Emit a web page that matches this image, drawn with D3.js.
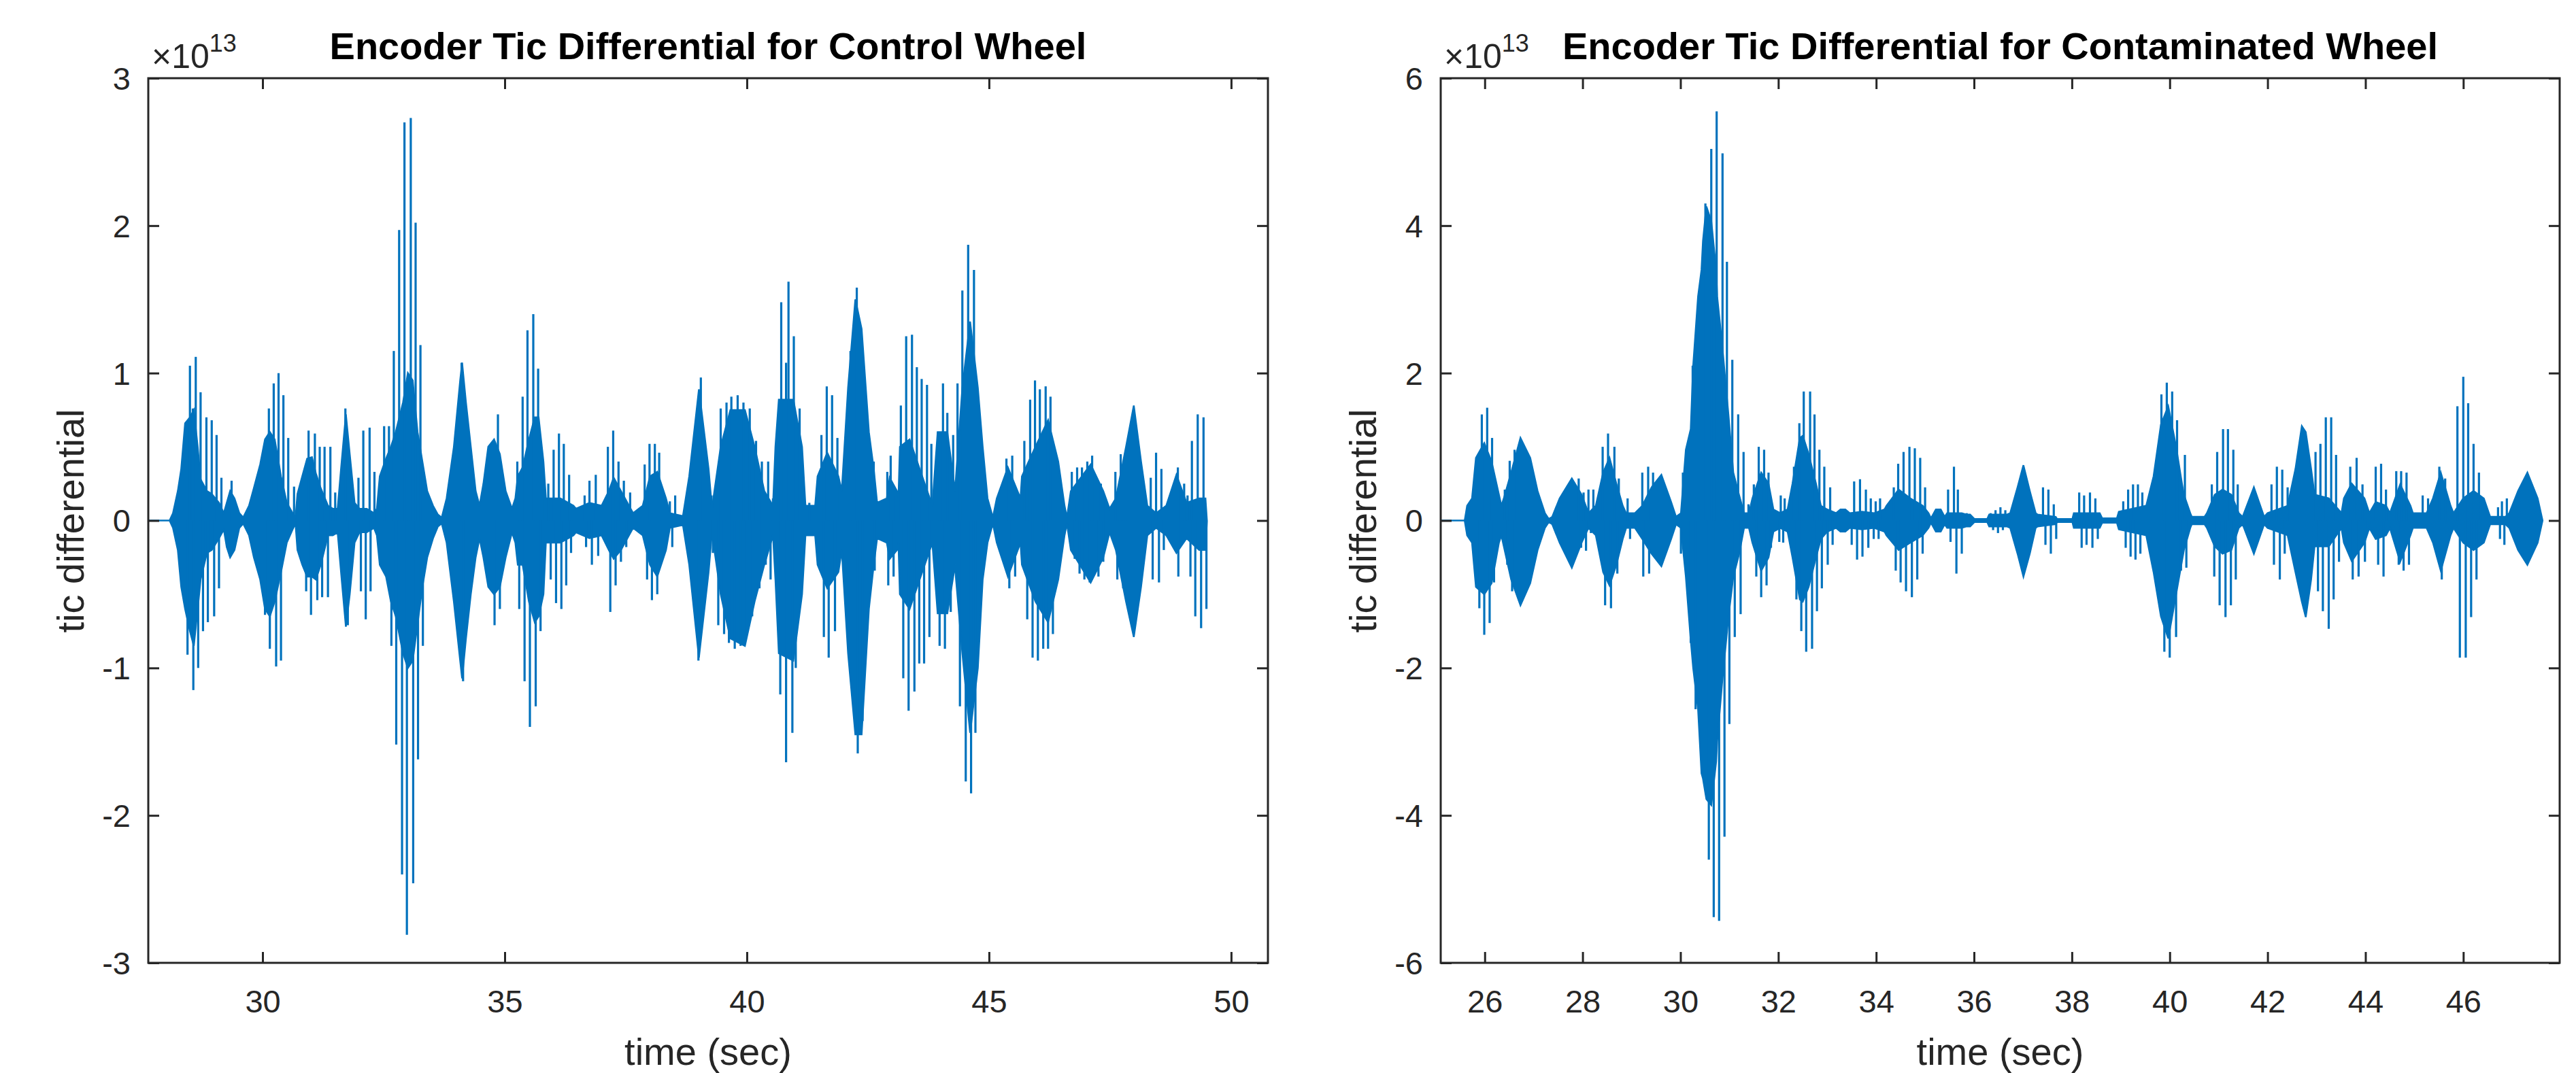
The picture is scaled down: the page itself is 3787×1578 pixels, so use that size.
<!DOCTYPE html>
<html>
<head>
<meta charset="utf-8">
<script src="https://cdn.jsdelivr.net/npm/d3@7"></script>
<style>
  body { margin: 0; background: #ffffff; }
  text { font-family: "Liberation Sans", Arial, Helvetica, sans-serif; fill: #262626; }
</style>
</head>
<body>
<script>

//Axis limits and tick values (values are in units of 10^13)
var controlXLim = [27.64, 50.76];
var controlYLim = [-3, 3];
var controlXTicks = [30, 35, 40, 45, 50];
var controlYTicks = [-3, -2, -1, 0, 1, 2, 3];

var contamXLim = [25.10, 47.97];
var contamYLim = [-6, 6];
var contamXTicks = [26, 28, 30, 32, 34, 36, 38, 40, 42, 44, 46];
var contamYTicks = [-6, -4, -2, 0, 2, 4, 6];

//Solid body of the control signal: [time, upper, lower]
var controlEnvelope = [
  [27.64,0,0],[28.08,0,0],[28.15,.05,-.05],[28.25,.2,-.2],[28.32,.35,-.45],[28.40,.66,-.6],
  [28.50,.7,-.75],[28.58,.75,-.85],[28.66,.5,-.6],[28.72,.28,-.4],[28.85,.2,-.22],[28.95,.18,-.2],
  [29.10,.12,-.12],[29.20,.05,-.06],[29.26,.12,-.18],[29.33,.2,-.25],[29.42,.15,-.2],[29.52,.05,-.05],
  [29.60,.02,-.02],[29.72,.1,-.1],[29.82,.22,-.25],[29.95,.38,-.4],[30.05,.55,-.6],[30.15,.6,-.65],
  [30.25,.55,-.55],[30.38,.3,-.35],[30.50,.12,-.15],[30.62,.05,-.06],[30.68,.02,-.02],[30.72,.18,-.2],
  [30.82,.3,-.3],[30.92,.42,-.38],[31.02,.43,-.38],[31.10,.32,-.4],[31.20,.22,-.3],[31.35,.1,-.1],
  [31.45,.08,-.1],[31.55,.08,-.08],[31.62,.35,-.35],[31.72,.72,-.72],[31.80,.45,-.5],[31.90,.12,-.15],
  [32.00,.08,-.08],[32.15,.08,-.08],[32.30,.05,-.05],[32.36,.08,-.1],[32.42,.3,-.3],[32.55,.42,-.38],
  [32.65,.5,-.55],[32.75,.6,-.65],[32.90,.8,-.9],[33.00,1.0,-1.0],[33.10,.95,-.95],[33.20,.6,-.7],
  [33.30,.4,-.45],[33.40,.2,-.25],[33.52,.1,-.12],[33.62,.04,-.04],[33.70,.02,-.02],[33.80,.15,-.15],
  [33.95,.5,-.55],[34.08,.95,-.95],[34.12,1.07,-1.07],[34.20,.8,-.8],[34.30,.5,-.5],[34.40,.2,-.25],
  [34.48,.1,-.12],[34.56,.25,-.25],[34.66,.5,-.45],[34.78,.55,-.5],[34.90,.45,-.45],[35.02,.2,-.25],
  [35.15,.08,-.08],[35.22,.15,-.15],[35.27,.3,-.3],[35.37,.36,-.3],[35.50,.55,-.55],[35.62,.7,-.69],
  [35.70,.7,-.65],[35.80,.4,-.5],[35.85,.15,-.15],[36.15,.15,-.15],[36.42,.1,-.1],[36.47,.08,-.08],
  [36.75,.12,-.12],[37.00,.1,-.1],[37.15,.2,-.2],[37.25,.29,-.26],[37.40,.2,-.2],[37.65,.05,-.05],
  [37.85,.1,-.1],[38.00,.3,-.3],[38.15,.33,-.38],[38.33,.15,-.2],[38.41,.05,-.05],[38.68,.03,-.03],
  [38.81,.3,-.3],[39.01,.89,-.93],[39.21,.35,-.35],[39.28,.08,-.08],[39.33,.2,-.2],[39.46,.5,-.5],
  [39.66,.75,-.8],[39.96,.75,-.85],[40.16,.5,-.55],[40.36,.2,-.3],[40.54,.1,-.1],[40.59,.5,-.4],
  [40.66,.82,-.9],[40.96,.82,-.95],[41.14,.5,-.5],[41.21,.1,-.1],[41.41,.1,-.1],[41.46,.3,-.3],
  [41.66,.46,-.46],[41.89,.3,-.35],[41.96,.2,-.2],[42.09,.9,-.9],[42.24,1.5,-1.45],[42.37,1.3,-1.45],
  [42.52,.6,-.6],[42.62,.35,-.3],[42.69,.12,-.12],[42.89,.15,-.15],[42.95,.29,-.26],[43.10,.2,-.2],
  [43.13,.15,-.15],[43.16,.5,-.5],[43.36,.55,-.6],[43.62,.3,-.35],[43.83,.1,-.15],[43.94,.6,-.63],
  [44.14,.6,-.63],[44.30,.2,-.3],[44.32,.3,-.4],[44.45,.9,-.9],[44.61,1.35,-1.44],[44.77,.9,-1.0],
  [44.87,.5,-.4],[44.97,.15,-.15],[45.08,.02,-.02],[45.16,.15,-.15],[45.39,.36,-.38],[45.65,.15,-.15],
  [45.68,.3,-.3],[45.96,.5,-.55],[46.22,.68,-.69],[46.43,.4,-.4],[46.56,.1,-.1],[46.61,.02,-.02],
  [46.69,.2,-.2],[47.10,.38,-.42],[47.36,.2,-.25],[47.49,.08,-.08],[47.62,.15,-.2],[47.83,.5,-.55],
  [47.99,.78,-.79],[48.14,.4,-.45],[48.27,.1,-.1],[48.45,.05,-.05],[48.66,.1,-.1],[48.87,.31,-.22],
  [49.08,.12,-.12],[49.34,.15,-.2],[49.47,.15,-.2],[49.50,0,0]
];

//Single swings that stick out of the control body: [time, value]
var controlPeaks = [
  [28.50,1.05],[28.56,.76],[28.62,1.11],[28.72,.87],[28.84,.70],[28.95,.68],[29.05,.58],[29.15,.29],
  [29.36,.27],[30.13,.76],[30.23,.93],[30.33,1.0],[30.43,.85],[30.53,.56],[30.65,.23],[30.95,.61],
  [31.08,.59],[31.18,.5],[31.28,.5],[31.40,.5],[31.50,.19],[31.71,.76],[31.98,.29],[32.08,.61],
  [32.21,.63],[32.31,.33],[32.51,.64],[32.61,.64],[32.71,1.15],[32.82,1.97],[32.93,2.70],[33.06,2.73],
  [33.16,2.02],[33.26,1.19],[34.11,1.07],[34.86,.72],[35.26,.40],[35.37,.84],[35.47,1.29],[35.59,1.40],
  [35.69,1.03],[35.77,.42],[35.90,.25],[36.01,.48],[36.12,.59],[36.22,.52],[36.33,.31],[36.65,.17],
  [36.75,.27],[36.88,.31],[37.13,.5],[37.24,.61],[37.35,.4],[37.46,.27],[37.59,.19],[37.89,.38],
  [37.99,.52],[38.10,.52],[38.19,.46],[38.41,.13],[38.52,.17],[39.05,.97],[39.27,.17],[39.46,.76],
  [39.58,.80],[39.68,.84],[39.81,.85],[39.93,.80],[40.06,.76],[40.19,.54],[40.31,.40],[40.44,.40],
  [40.54,.15],[40.71,1.48],[40.81,1.07],[40.86,1.62],[40.97,1.25],[41.09,.76],[41.29,.12],[41.54,.58],
  [41.65,.91],[41.76,.85],[41.87,.56],[42.14,1.15],[42.27,1.58],[42.62,.4],[42.90,.33],[42.97,.44],
  [43.08,.17],[43.18,.78],[43.29,1.25],[43.41,1.26],[43.51,1.04],[43.61,.96],[43.72,.92],[43.81,.52],
  [43.95,.6],[44.05,.93],[44.14,.73],[44.26,.58],[44.35,.93],[44.45,1.56],[44.57,1.87],[44.69,1.70],
  [45.36,.42],[45.48,.44],[45.73,.54],[45.85,.82],[45.95,.95],[46.05,.89],[46.17,.91],[46.27,.84],
  [46.71,.33],[46.82,.36],[46.92,.36],[47.03,.40],[47.13,.44],[47.31,.25],[47.41,.15],[47.61,.33],
  [47.72,.45],[47.82,.46],[48.34,.29],[48.45,.46],[48.56,.35],[48.90,.36],[49.03,.25],[49.10,.17],
  [49.19,.54],[49.31,.72],[49.43,.70],
  [28.45,-.91],[28.57,-1.15],[28.67,-1.0],[28.77,-.75],[28.87,-.69],[29.0,-.65],[29.10,-.46],[29.32,-.24],
  [30.05,-.64],[30.15,-.87],[30.28,-.99],[30.38,-.95],[30.90,-.48],[31.0,-.64],[31.13,-.54],[31.23,-.52],
  [31.35,-.52],[31.76,-.71],[32.03,-.48],[32.13,-.67],[32.23,-.48],[32.66,-.85],[32.76,-1.52],[32.88,-2.4],
  [32.98,-2.81],[33.11,-2.46],[33.21,-1.62],[33.31,-.85],[34.14,-1.09],[34.79,-.71],[34.90,-.6],[35.30,-.6],
  [35.41,-1.09],[35.52,-1.40],[35.64,-1.26],[35.74,-.75],[35.95,-.40],[36.06,-.56],[36.17,-.6],[36.27,-.44],
  [36.37,-.22],[36.68,-.18],[36.80,-.3],[36.93,-.24],[37.18,-.62],[37.29,-.44],[37.40,-.28],[37.51,-.18],
  [37.94,-.4],[38.04,-.54],[38.15,-.5],[38.46,-.18],[39.0,-.95],[39.30,-.22],[39.41,-.71],[39.53,-.77],
  [39.63,-.83],[39.75,-.87],[39.87,-.85],[40.0,-.77],[40.11,-.65],[40.26,-.46],[40.39,-.3],[40.49,-.4],
  [40.69,-1.18],[40.81,-1.64],[40.94,-1.44],[41.01,-1.0],[41.59,-.79],[41.69,-.93],[41.82,-.75],[42.29,-1.58],
  [42.39,-1.36],[42.64,-.34],[42.92,-.44],[43.03,-.38],[43.23,-1.07],[43.34,-1.29],[43.46,-1.16],[43.56,-.97],
  [43.66,-.97],[43.77,-.79],[43.98,-.85],[44.09,-.87],[44.21,-.62],[44.40,-1.26],[44.52,-1.77],[44.63,-1.85],
  [44.72,-1.44],[45.42,-.46],[45.54,-.38],[45.79,-.67],[45.90,-.93],[46.01,-.95],[46.12,-.87],[46.22,-.87],
  [46.32,-.77],[46.77,-.26],[46.87,-.36],[46.97,-.4],[47.08,-.42],[47.26,-.38],[47.36,-.28],[47.65,-.4],
  [47.77,-.46],[48.38,-.4],[48.51,-.42],[48.61,-.2],[48.91,-.38],[49.16,-.38],[49.26,-.65],[49.38,-.73],
  [49.49,-.6]
];

//Solid body of the contaminated signal: [time, upper, lower]
var contamEnvelope = [
  [25.10,0,0],[25.59,0,0],[25.64,.2,-.2],[25.74,.3,-.3],[25.82,.85,-.9],[25.99,1.05,-1.0],
  [26.14,.8,-.85],[26.29,.35,-.3],[26.34,.2,-.2],[26.39,.3,-.35],[26.54,.65,-.8],[26.73,1.12,-1.15],
  [26.93,.85,-.85],[27.08,.4,-.4],[27.23,.1,-.1],[27.31,.02,-.02],[27.38,.05,-.05],[27.53,.3,-.3],
  [27.78,.57,-.64],[27.98,.35,-.3],[28.12,.1,-.1],[28.27,.2,-.2],[28.42,.65,-.7],[28.55,.85,-.88],
  [28.69,.5,-.6],[28.82,.2,-.25],[28.89,.1,-.1],[29.07,.1,-.1],[29.22,.2,-.25],[29.41,.45,-.45],
  [29.61,.62,-.62],[29.81,.25,-.25],[29.91,.05,-.05],[30.01,.1,-.1],[30.11,.96,-.76],[30.21,1.24,-1.62],
  [30.26,2.1,-2.0],[30.36,3.04,-2.56],[30.43,3.4,-3.43],[30.46,3.79,-3.5],[30.53,4.26,-3.78],[30.63,4.06,-3.86],
  [30.73,3.4,-3.27],[30.75,3.04,-3.0],[30.85,2.4,-2.21],[30.98,1.44,-1.31],[31.08,.65,-.76],[31.20,.34,-.45],
  [31.30,.1,-.1],[31.40,.1,-.1],[31.47,.3,-.3],[31.65,.65,-.68],[31.80,.5,-.5],[31.90,.15,-.15],
  [32.04,.1,-.1],[32.19,.15,-.15],[32.29,.5,-.5],[32.44,1.12,-1.07],[32.50,1.15,-1.1],[32.62,.9,-.9],
  [32.77,.5,-.5],[32.87,.2,-.25],[33.00,.15,-.15],[33.18,.1,-.1],[33.27,.15,-.15],[33.37,.15,-.15],
  [33.46,.1,-.1],[33.71,.12,-.12],[33.96,.1,-.1],[34.17,.15,-.15],[34.21,.2,-.2],[34.46,.42,-.4],
  [34.70,.3,-.3],[34.95,.2,-.2],[35.07,.1,-.1],[35.12,.03,-.03],[35.22,.15,-.15],[35.32,.15,-.15],
  [35.40,.05,-.05],[35.45,.1,-.1],[35.75,.1,-.1],[35.85,.08,-.08],[35.92,.08,-.08],[36.01,.02,-.02],
  [36.27,.02,-.02],[36.31,.08,-.08],[36.67,.08,-.08],[36.74,.1,-.1],[36.89,.45,-.45],[37.01,.75,-.76],
  [37.14,.4,-.45],[37.26,.1,-.1],[37.30,.08,-.08],[37.67,.05,-.05],[37.70,.02,-.02],[38.01,.02,-.02],
  [38.04,.1,-.1],[38.57,.1,-.1],[38.62,.03,-.03],[38.92,.03,-.03],[38.96,.12,-.12],[39.52,.2,-.2],
  [39.67,.6,-.7],[39.82,1.3,-1.3],[39.97,1.55,-1.6],[40.13,1.0,-1.0],[40.25,.5,-.55],[40.29,.35,-.4],
  [40.42,.1,-.1],[40.45,.05,-.05],[40.71,.05,-.05],[40.76,.1,-.1],[40.92,.35,-.35],[41.08,.42,-.45],
  [41.26,.35,-.4],[41.41,.1,-.1],[41.49,.05,-.05],[41.72,.45,-.45],[41.93,.05,-.05],[42.00,.1,-.1],
  [42.41,.2,-.2],[42.57,.7,-.7],[42.70,1.28,-1.1],[42.78,1.2,-1.31],[42.89,.7,-.8],[42.96,.35,-.35],
  [43.25,.3,-.35],[43.51,.1,-.1],[43.56,.3,-.3],[43.72,.5,-.55],[43.98,.3,-.3],[44.08,.1,-.1],
  [44.21,.25,-.25],[44.42,.2,-.2],[44.50,.1,-.1],[44.71,.49,-.56],[44.92,.2,-.2],[44.97,.1,-.1],
  [45.25,.1,-.1],[45.38,.3,-.3],[45.54,.65,-.68],[45.74,.2,-.2],[45.80,.1,-.1],[46.00,.3,-.3],
  [46.21,.4,-.4],[46.42,.3,-.3],[46.55,.05,-.05],[46.86,.05,-.05],[46.94,.1,-.1],[47.12,.4,-.4],
  [47.31,.65,-.6],[47.52,.3,-.3],[47.62,0,0]
];

//Single swings that stick out of the contaminated body: [time, value]
var contamPeaks = [
  [25.94,1.44],[26.05,1.53],[26.15,1.12],[26.41,.42],[26.51,.81],[26.61,.96],[27.92,.57],[28.02,.38],
  [28.12,.42],[28.22,.42],[28.41,1.0],[28.52,1.18],[28.65,1.0],[28.74,.57],[28.92,.3],[29.22,.65],
  [29.34,.73],[29.44,.65],[30.05,.65],[30.25,2.1],[30.51,4.3],[30.63,5.04],[30.74,5.55],[30.86,4.98],
  [30.95,3.51],[31.06,2.18],[31.18,1.44],[31.29,.93],[31.39,.22],[31.50,.49],[31.60,1.0],[31.71,.96],
  [31.80,.65],[32.05,.34],[32.13,.3],[32.32,.73],[32.43,1.32],[32.52,1.75],[32.65,1.75],[32.74,1.44],
  [32.84,.96],[32.94,.73],[33.06,.45],[33.55,.53],[33.67,.56],[33.79,.42],[33.89,.3],[33.99,.26],
  [34.08,.3],[34.36,.45],[34.45,.77],[34.56,.93],[34.68,1.0],[34.79,.98],[34.90,.85],[35.0,.45],
  [35.47,.42],[35.59,.73],[35.67,.42],[35.85,.1],[36.34,.1],[36.44,.14],[36.54,.18],[36.64,.14],
  [37.41,.45],[37.52,.42],[37.63,.22],[38.15,.38],[38.25,.34],[38.37,.38],[38.48,.3],[39.05,.26],
  [39.15,.42],[39.25,.49],[39.35,.49],[39.44,.38],[39.83,1.71],[39.94,1.87],[40.05,1.75],[40.15,1.36],
  [40.31,.89],[40.86,.49],[40.97,.93],[41.09,1.24],[41.19,1.24],[41.30,.96],[41.39,.49],[42.08,.49],
  [42.19,.73],[42.30,.69],[42.41,.45],[42.98,.93],[43.08,1.04],[43.19,1.4],[43.30,1.4],[43.40,.89],
  [43.69,.73],[43.82,.85],[43.94,.49],[44.21,.73],[44.32,.77],[44.42,.42],[44.63,.67],[44.73,.67],
  [44.84,.65],[45.17,.34],[45.28,.3],[45.51,.73],[45.63,.57],[45.88,1.55],[46.0,1.95],[46.10,1.59],
  [46.21,1.04],[46.32,.65],[46.71,.18],[46.79,.26],[46.89,.3],
  [25.89,-1.19],[25.99,-1.55],[26.10,-1.39],[26.19,-.84],[26.46,-.6],[26.56,-.96],[27.97,-.37],[28.07,-.41],
  [28.17,-.17],[28.46,-1.15],[28.58,-1.19],[28.71,-.72],[28.97,-.25],[29.24,-.76],[29.36,-.72],[30.01,-.45],
  [30.21,-1.66],[30.31,-2.56],[30.58,-4.6],[30.68,-5.38],[30.79,-5.43],[30.90,-4.29],[31.0,-2.76],[31.11,-1.58],
  [31.23,-1.27],[31.55,-.76],[31.65,-1.04],[31.76,-.88],[31.85,-.37],[32.02,-.29],[32.10,-.3],[32.37,-1.07],
  [32.47,-1.5],[32.57,-1.78],[32.69,-1.74],[32.79,-1.23],[32.89,-.92],[33.01,-.6],[33.11,-.33],[33.50,-.33],
  [33.61,-.53],[33.72,-.49],[33.84,-.37],[33.95,-.25],[34.05,-.25],[34.40,-.68],[34.50,-.84],[34.61,-.96],
  [34.73,-1.04],[34.84,-.8],[34.95,-.45],[35.52,-.29],[35.64,-.72],[35.75,-.45],[36.39,-.13],[36.49,-.17],
  [36.59,-.13],[37.46,-.33],[37.57,-.45],[37.68,-.25],[38.20,-.37],[38.30,-.33],[38.42,-.37],[38.53,-.25],
  [39.10,-.37],[39.20,-.49],[39.30,-.53],[39.40,-.45],[39.89,-1.78],[40.0,-1.86],[40.13,-1.58],[40.23,-.68],
  [40.34,-.64],[40.91,-.76],[41.02,-1.15],[41.14,-1.31],[41.25,-1.15],[41.35,-.8],[42.13,-.6],[42.25,-.8],
  [42.35,-.45],[43.03,-.96],[43.13,-1.23],[43.25,-1.47],[43.35,-1.07],[43.46,-.56],[43.74,-.8],[43.86,-.76],
  [43.99,-.56],[44.26,-.6],[44.37,-.76],[44.68,-.6],[44.78,-.68],[44.89,-.6],[45.56,-.8],[45.93,-1.86],
  [46.05,-1.86],[46.16,-1.31],[46.27,-.8],[46.75,-.25],[46.84,-.33]
];

var lineBlue = "#0072bd";
var axisGray = "#262626";

//This function draws one complete panel: box, ticks, labels and the signal.
function drawPanel(svg, p){

  var top = 115;
  var bottom = 1416;

  var x = d3.scaleLinear().domain(p.xLim).range([p.left, p.right]);
  var y = d3.scaleLinear().domain(p.yLim).range([bottom, top]);

  //Clip the signal to the inside of the box
  svg.append("clipPath")
     .attr("id", p.id + "-clip")
     .append("rect")
     .attr("x", p.left)
     .attr("y", top)
     .attr("width", p.right - p.left)
     .attr("height", bottom - top);

  var plot = svg.append("g").attr("clip-path", "url(#" + p.id + "-clip)");

  //The solid part of the trace
  var area = d3.area()
               .x(function(d){ return x(d[0]); })
               .y0(function(d){ return y(d[2]); })
               .y1(function(d){ return y(d[1]); });

  plot.append("path")
      .datum(p.envelope)
      .attr("d", area)
      .attr("fill", lineBlue)
      .attr("stroke", lineBlue)
      .attr("stroke-width", 2.5);

  //The separate vertical swings
  plot.selectAll("line.peak")
      .data(p.peaks)
      .enter()
      .append("line")
      .attr("class", "peak")
      .attr("x1", function(d){ return x(d[0]); })
      .attr("x2", function(d){ return x(d[0]); })
      .attr("y1", y(0))
      .attr("y2", function(d){ return y(d[1]); })
      .attr("stroke", lineBlue)
      .attr("stroke-width", 3.2);

  //Bottom axis with labels, ticks pointing inwards
  var xb = svg.append("g")
              .attr("transform", "translate(0," + bottom + ")")
              .call(d3.axisBottom(x).tickValues(p.xTicks).tickSize(-16).tickSizeOuter(0)
                    .tickFormat(function(d){ return String(d); }));
  xb.selectAll("text").attr("y", 57).attr("dy", "0.35em").attr("font-size", 47);

  //Top axis, ticks only
  var xt = svg.append("g")
              .attr("transform", "translate(0," + top + ")")
              .call(d3.axisTop(x).tickValues(p.xTicks).tickSize(-16).tickSizeOuter(0).tickFormat(""));

  //Left axis with labels
  var yl = svg.append("g")
              .attr("transform", "translate(" + p.left + ",0)")
              .call(d3.axisLeft(y).tickValues(p.yTicks).tickSize(-16).tickSizeOuter(0)
                    .tickFormat(function(d){ return String(d); }));
  yl.selectAll("text").attr("x", -26).attr("dy", "0.35em").attr("font-size", 47);

  //Right axis, ticks only
  var yr = svg.append("g")
              .attr("transform", "translate(" + p.right + ",0)")
              .call(d3.axisRight(y).tickValues(p.yTicks).tickSize(-16).tickSizeOuter(0).tickFormat(""));

  [xb, xt, yl, yr].forEach(function(g){
    g.select(".domain").remove();
    g.selectAll("line").attr("stroke", axisGray).attr("stroke-width", 3);
    g.attr("font-family", null);
  });

  //The box round the plot
  svg.append("rect")
     .attr("x", p.left)
     .attr("y", top)
     .attr("width", p.right - p.left)
     .attr("height", bottom - top)
     .attr("fill", "none")
     .attr("stroke", axisGray)
     .attr("stroke-width", 3);

  //Exponent above the y axis
  var expo = svg.append("text")
                .attr("x", p.left + 5)
                .attr("y", 100)
                .attr("font-size", 50);
  expo.append("tspan").text("\u00d710");
  expo.append("tspan").attr("font-size", 36).attr("dy", -24).text("13");

  //Title
  svg.append("text")
     .attr("x", (p.left + p.right) / 2)
     .attr("y", 87)
     .attr("text-anchor", "middle")
     .attr("font-size", 56)
     .attr("font-weight", "bold")
     .style("fill", "#000000")
     .text(p.title);

  //Axis labels
  svg.append("text")
     .attr("x", (p.left + p.right) / 2)
     .attr("y", 1566)
     .attr("text-anchor", "middle")
     .attr("font-size", 56)
     .text("time (sec)");

  svg.append("text")
     .attr("transform", "translate(" + (p.left - 95) + ",766) rotate(-90)")
     .attr("text-anchor", "middle")
     .attr("font-size", 56)
     .text("tic differential");
}

//This is the main function for the program.
function main(){

  var w = 3787;
  var h = 1578;

  var svg = d3.select("body")
              .append("svg")
              .attr("width", w)
              .attr("height", h)
              .style("display", "block");

  svg.append("rect").attr("width", w).attr("height", h).attr("fill", "#ffffff");

  drawPanel(svg, {
    id: "control",
    left: 218, right: 1864,
    xLim: controlXLim, yLim: controlYLim,
    xTicks: controlXTicks, yTicks: controlYTicks,
    envelope: controlEnvelope, peaks: controlPeaks,
    title: "Encoder Tic Differential for Control Wheel"
  });

  drawPanel(svg, {
    id: "contam",
    left: 2118, right: 3763,
    xLim: contamXLim, yLim: contamYLim,
    xTicks: contamXTicks, yTicks: contamYTicks,
    envelope: contamEnvelope, peaks: contamPeaks,
    title: "Encoder Tic Differential for Contaminated Wheel"
  });
}

//Run once the page has loaded.
window.onload = function() {
  main();
};
</script>
</body>
</html>
